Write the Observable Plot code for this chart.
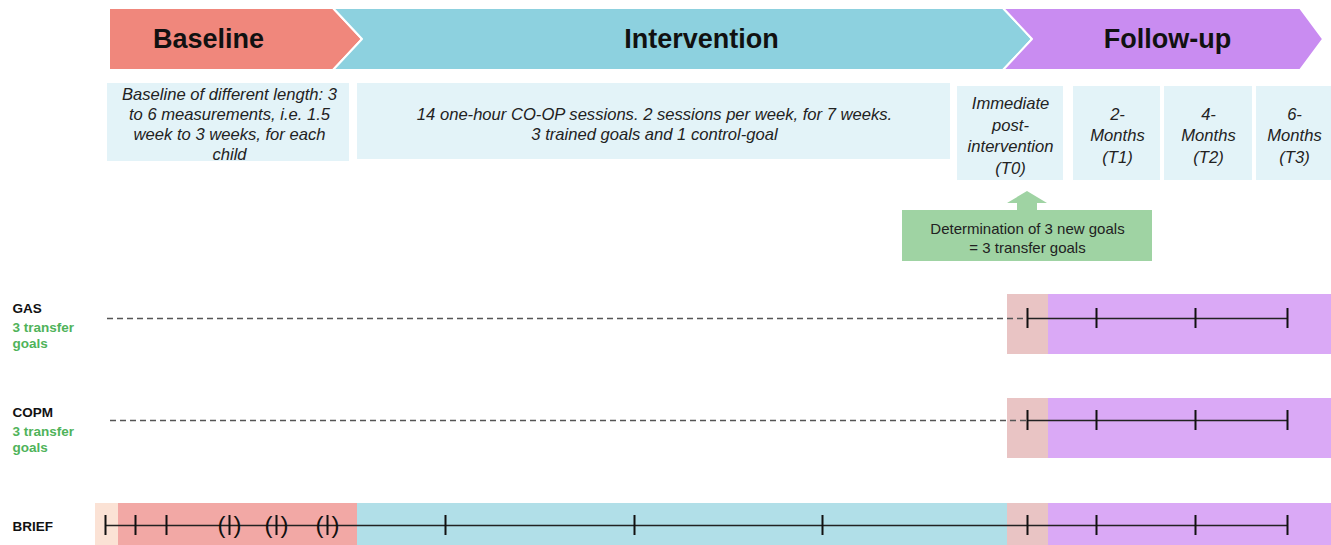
<!DOCTYPE html>
<html>
<head>
<meta charset="utf-8">
<script src="https://cdn.jsdelivr.net/npm/d3@7"></script>
<script src="https://cdn.jsdelivr.net/npm/@observablehq/plot@0.6"></script>
<style>
  html, body { margin: 0; padding: 0; background: #fff; }
  #chart svg { display: block; }
</style>
</head>
<body>
<div id="chart"></div>
<script>
// ---------- Phase chevrons ----------
const phases      = ["Baseline", "Intervention", "Follow-up"];
const phaseStart  = [109, 333, 1003];
const phaseNotch  = [109, 362, 1032];
const phaseEnd    = [333, 1003, 1300];
const phaseTip    = [362, 1032, 1323];
const phaseColors = ["#f0877c", "#8dd1df", "#c98cf1"];
const phaseLabelX = [208, 701, 1167];
const chevTop = 8, chevMid = 39, chevBottom = 70;

// ---------- Description boxes ----------
const boxTexts = [
  "Baseline of different length: 3\nto 6 measurements, i.e. 1.5\nweek to 3 weeks, for each\nchild",
  "14 one-hour CO-OP sessions. 2 sessions per week, for 7 weeks.\n3 trained goals and 1 control-goal",
  "Immediate\npost-\nintervention\n(T0)",
  "2-\nMonths\n(T1)",
  "4-\nMonths\n(T2)",
  "6-\nMonths\n(T3)"
];
const boxX1 = [107, 357, 957, 1073, 1164, 1256];
const boxX2 = [349, 950, 1063, 1160, 1252, 1331];
const boxY1 = [83, 83, 86, 86, 86, 86];
const boxY2 = [161, 159, 180, 180, 180, 180];
const boxTextX = [229, 654, 1010, 1117, 1208, 1294];
const boxTextY = [123, 123, 134, 134, 134, 134];
const boxLineHeight = [1.21, 1.21, 1.3, 1.3, 1.3, 1.3];

// ---------- Transfer goals note ----------
const noteText = "Determination of 3 new goals\n= 3 transfer goals";
const noteBox = {x1: 902, x2: 1152, y1: 210, y2: 261};
const noteX = 1027, noteY = 237;
const arrowY  = [191, 203, 203, 211];
const arrowX1 = [1027, 1007, 1017, 1017];
const arrowX2 = [1027, 1047, 1037, 1037];

// ---------- Measurement rows ----------
const rows       = ["GAS", "COPM", "BRIEF"];
const rowSub     = ["3 transfer\ngoals", "3 transfer\ngoals", ""];
const rowLabelY  = [308, 412, 526];
const rowSubY    = [334, 438, 0];
const rowLineY   = [318, 420, 525];
const rowDashStart = [107, 110, null];
const rowSolidStart = [1027, 1027, 105];
const rowSolidEnd   = [1287, 1287, 1287];
const rowBandY1  = [294, 398, 503];
const rowBandY2  = [354, 458, 545];

// background bands per row: [row, x1, x2, colour]
const bandRow   = ["GAS","GAS","COPM","COPM","BRIEF","BRIEF","BRIEF","BRIEF","BRIEF"];
const bandX1    = [1007, 1048, 1007, 1048, 95, 118, 357, 1007, 1048];
const bandX2    = [1048, 1331, 1048, 1331, 118, 357, 1007, 1048, 1331];
const bandColor = ["#e9c4c4","#daa9f6","#e9c4c4","#daa9f6","#fbe2d5","#f2a8a5","#b1dfe8","#e9c4c4","#daa9f6"];

// measurement time points
const ticksGAS   = [1027, 1096, 1195, 1287];
const ticksCOPM  = [1027, 1096, 1195, 1287];
const ticksBRIEF = [105, 135, 166, 229, 276, 327, 445, 634, 822, 1027, 1096, 1195, 1287];
const optionalBRIEF = [229, 276, 327];

// ---------- build tables ----------
const chev = phases.flatMap((p, i) => [
  {phase: p, color: phaseColors[i], y: chevTop,    x1: phaseStart[i], x2: phaseEnd[i]},
  {phase: p, color: phaseColors[i], y: chevMid,    x1: phaseNotch[i], x2: phaseTip[i]},
  {phase: p, color: phaseColors[i], y: chevBottom, x1: phaseStart[i], x2: phaseEnd[i]}
]);
const phaseLabels = phases.map((p, i) => ({text: p, x: phaseLabelX[i], y: chevMid}));
const boxes = boxTexts.map((t, i) => ({text: t, x1: boxX1[i], x2: boxX2[i], y1: boxY1[i], y2: boxY2[i], tx: boxTextX[i], ty: boxTextY[i], lh: boxLineHeight[i]}));
const arrow = arrowY.map((y, i) => ({y, x1: arrowX1[i], x2: arrowX2[i]}));
const bands = bandRow.map((r, i) => {
  const k = rows.indexOf(r);
  return {x1: bandX1[i], x2: bandX2[i], y1: rowBandY1[k], y2: rowBandY2[k], color: bandColor[i]};
});
const rowIdx = rows.map((r, i) => ({row: r, i, y: rowLineY[i]}));
const dashes = rowIdx.filter(d => rowDashStart[d.i] != null).map(d => ({x1: rowDashStart[d.i], x2: rowSolidStart[d.i], y: d.y}));
const solids = rowIdx.map(d => ({x1: rowSolidStart[d.i], x2: rowSolidEnd[d.i], y: d.y}));
const tickPts = [
  ...ticksGAS.map(x => ({x, y: rowLineY[0]})),
  ...ticksCOPM.map(x => ({x, y: rowLineY[1]})),
  ...ticksBRIEF.map(x => ({x, y: rowLineY[2]}))
];
const parens = optionalBRIEF.map(x => ({x, y: rowLineY[2]}));
const TICK = 10;

const font = "'Liberation Sans', Arial, Helvetica, sans-serif";

const chart = Plot.plot({
  width: 1331,
  height: 545,
  margin: 0,
  x: {domain: [0, 1331], axis: null},
  y: {domain: [0, 545], range: [0, 545], axis: null},
  color: {type: "identity"},
  style: {fontFamily: font, background: "white"},
  marks: [
    // chevrons
    Plot.areaX(chev, {y: "y", x1: "x1", x2: "x2", z: "phase", fill: "color", stroke: "white", strokeWidth: 2, curve: "linear"}),
    Plot.text(phaseLabels, {x: "x", y: "y", text: "text", fontSize: 27, fontWeight: "bold", fill: "#111"}),
    // description boxes
    Plot.rect(boxes, {x1: "x1", x2: "x2", y1: "y1", y2: "y2", fill: "#e3f3f8"}),
    ...boxes.map(b => Plot.text([b], {x: "tx", y: "ty", text: "text", fontSize: 16.6, fontStyle: "italic", fill: "#222", lineAnchor: "middle", lineHeight: b.lh})),
    // arrow + note
    Plot.areaX(arrow, {y: "y", x1: "x1", x2: "x2", fill: "#9fd3a3", curve: "linear"}),
    Plot.rect([noteBox], {x1: "x1", x2: "x2", y1: "y1", y2: "y2", fill: "#9fd3a3"}),
    Plot.text([{x: noteX, y: noteY, t: noteText}], {x: "x", y: "y", text: "t", fontSize: 15, fill: "#222", lineAnchor: "middle", lineHeight: 1.27}),
    // row backgrounds
    Plot.rect(bands, {x1: "x1", x2: "x2", y1: "y1", y2: "y2", fill: "color"}),
    // row labels
    Plot.text(rows.map((r, i) => ({r, y: rowLabelY[i]})), {x: 12, y: "y", text: "r", textAnchor: "start", fontSize: 13.5, fontWeight: "bold", fill: "#111"}),
    Plot.text(rowSub.map((s, i) => ({s, y: rowSubY[i]})).filter(d => d.s), {x: 12, y: "y", text: "s", textAnchor: "start", fontSize: 13.5, fontWeight: "bold", fill: "#4fb35a", lineAnchor: "middle", lineHeight: 1.2}),
    // timelines
    Plot.ruleY(dashes, {x1: "x1", x2: "x2", y: "y", stroke: "#555", strokeWidth: 1.3, strokeDasharray: "6,4"}),
    Plot.ruleY(solids, {x1: "x1", x2: "x2", y: "y", stroke: "#222", strokeWidth: 1.6}),
    Plot.ruleX(tickPts, {x: "x", y1: d => d.y - TICK, y2: d => d.y + TICK, stroke: "#111", strokeWidth: 2}),
    Plot.text(parens, {x: "x", y: "y", text: () => "(", dx: -8, fontSize: 24, fill: "#111"}),
    Plot.text(parens, {x: "x", y: "y", text: () => ")", dx: 8, fontSize: 24, fill: "#111"})
  ]
});
document.getElementById("chart").appendChild(chart);
</script>
</body>
</html>
